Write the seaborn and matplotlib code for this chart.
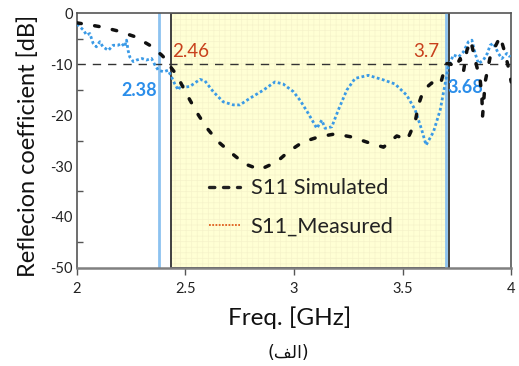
import matplotlib
matplotlib.use("Agg")
import matplotlib.pyplot as plt
import seaborn as sns
import pandas as pd
from matplotlib.lines import Line2D
from matplotlib.patches import Rectangle

# ---- data ----
sim_freq = [2.0, 2.045, 2.114, 2.19, 2.267, 2.336, 2.39, 2.413, 2.436, 2.467,
            2.48, 2.52, 2.56, 2.6, 2.65, 2.713, 2.774, 2.843, 2.92, 2.974,
            3.04, 3.112, 3.189, 3.266, 3.342, 3.412, 3.473, 3.522, 3.558, 3.573,
            3.596, 3.634, 3.673, 3.688, 3.70, 3.719, 3.742, 3.765, 3.78, 3.796,
            3.814, 3.834, 3.857, 3.865, 3.868, 3.88, 3.903, 3.926, 3.949, 3.972,
            3.988, 4.0]
sim_db = [-1.9, -2.2, -2.7, -3.5, -4.6, -6.3, -8.2, -9.2, -10.8, -12.5,
          -13.8, -17.0, -20.0, -22.6, -25.2, -27.5, -29.6, -30.7, -29.2, -27.2,
          -25.3, -24.3, -23.7, -24.3, -25.4, -26.3, -24.1, -24.8, -21.3, -18.0,
          -15.1, -13.7, -14.1, -11.8, -9.9, -9.9, -10.8, -8.9, -11.5, -7.3,
          -5.4, -9.2, -13.1, -16.4, -20.3, -13.5, -8.6, -6.6, -4.6, -7.9,
          -10.8, -13.5]

meas_freq = [2.0, 2.006, 2.03, 2.045, 2.06, 2.075, 2.09, 2.106, 2.12, 2.145,
             2.167, 2.19, 2.206, 2.22, 2.229, 2.236, 2.244, 2.26, 2.275, 2.3,
             2.32, 2.344, 2.36, 2.375, 2.4, 2.42, 2.436, 2.45, 2.467, 2.48,
             2.498, 2.52, 2.567, 2.59, 2.628, 2.674, 2.72, 2.751, 2.797, 2.859,
             2.912, 2.95, 2.997, 3.028, 3.066, 3.105, 3.128, 3.143, 3.174, 3.204,
             3.243, 3.281, 3.342, 3.412, 3.465, 3.519, 3.558, 3.588, 3.608, 3.642,
             3.673, 3.696, 3.71, 3.734, 3.757, 3.78, 3.803, 3.819, 3.834, 3.849,
             3.872, 3.89, 3.903, 3.918, 3.941, 3.957, 3.98, 3.995]
meas_db = [-2.2, -2.35, -3.3, -4.3, -4.0, -5.9, -6.6, -5.6, -6.6, -7.3,
           -6.3, -6.3, -5.9, -6.6, -5.3, -7.3, -8.6, -9.5, -9.2, -8.9,
           -9.2, -8.9, -10.2, -11.2, -11.5, -11.2, -12.5, -13.8, -15.1, -14.1,
           -14.5, -14.4, -13.0, -13.3, -15.4, -17.4, -18.0, -18.0, -16.7, -15.1,
           -13.5, -13.9, -15.4, -17.1, -19.7, -22.6, -21.0, -22.6, -22.3, -19.0,
           -15.1, -12.8, -12.2, -13.1, -13.9, -16.1, -19.0, -22.9, -25.9, -23.3,
           -19.0, -13.8, -10.5, -8.2, -8.6, -7.6, -5.6, -5.3, -7.9, -9.9,
           -9.2, -7.9, -6.3, -5.9, -7.9, -8.9, -7.9, -8.6]

series_labels = ["S11 Simulated", "S11_Measured"]
band_sim = [2.46, 3.7]      # simulated -10 dB band (labels)
band_meas = [2.38, 3.68]    # measured -10 dB band (labels)
band_box = [2.435, 3.715]   # shaded box edges as drawn
band_lines = [2.38, 3.70]   # blue markers as drawn
xticks = [2, 2.5, 3, 3.5, 4]
xtick_labels = ["2", "2.5", "3", "3.5", "4"]
yticks = [0, -10, -20, -30, -40, -50]
ytick_labels = ["0", "-10", "-20", "-30", "-40", "-50"]

# ---- plotting ----
sns.set_theme(style="white")
plt.rcParams['font.family'] = ['Lato', 'DejaVu Sans']
plt.rcParams['hatch.linewidth'] = 0.5

fig = plt.figure(figsize=(5.19, 3.66), dpi=100)
ax = fig.add_axes([0.148, 0.268, 0.837, 0.696])

# shaded band
ax.add_patch(Rectangle((band_box[0], -50), band_box[1] - band_box[0], 50,
                       facecolor='#FFFFD4', edgecolor='#F6F3CA', hatch='+++',
                       linewidth=0, zorder=0.5))
ax.add_patch(Rectangle((band_box[0], -50), band_box[1] - band_box[0], 50,
                       facecolor='none', edgecolor='#404040',
                       linewidth=1.4, zorder=0.6))

for xv in band_lines:
    ax.axvline(xv, color='#8CC2F0', lw=2.0, zorder=1)

ax.axhline(-10, color='#333333', lw=1.0, dashes=(6, 5), zorder=1.2)

df_sim = pd.DataFrame({"freq": sim_freq, "db": sim_db})
df_meas = pd.DataFrame({"freq": meas_freq, "db": meas_db})

sns.lineplot(data=df_meas, x="freq", y="db", ax=ax, color='#3A9AE6',
             linewidth=2.0, estimator=None, zorder=3)
sns.lineplot(data=df_sim, x="freq", y="db", ax=ax, color='#111111',
             linewidth=2.5, estimator=None, zorder=4)
lines = ax.get_lines()
meas_line = lines[-2]
sim_line = lines[-1]
meas_line.set_dashes((1.0, 0.9))
sim_line.set_dashes((1.3, 3.9))
sim_line.set_dash_capstyle('round')

ax.set_xlim(2, 4)
ax.set_ylim(-50, 0)
ax.set_xticks(xticks)
ax.set_xticklabels(xtick_labels)
ax.set_yticks(yticks)
ax.set_yticklabels(ytick_labels)
ax.set_yticks([-5, -15, -25, -35, -45], minor=True)
ax.tick_params(axis='y', which='major', length=0, labelsize=10.5, pad=3,
               colors='#222222')
ax.tick_params(axis='y', which='minor', direction='in', length=4, width=1,
               color='#555555', left=True)
ax.tick_params(axis='x', which='major', direction='out', length=5, width=1,
               color='#555555', labelsize=10.5, pad=5, bottom=True,
               labelcolor='#222222')
ax.set_xlabel("")
ax.set_ylabel("")

for side in ['left', 'top', 'right']:
    ax.spines[side].set_color('#555555')
    ax.spines[side].set_linewidth(1.2)
ax.spines['bottom'].set_color('#808080')
ax.spines['bottom'].set_linewidth(1.8)

# annotations
red = '#C8401C'
blue = '#2B8EEA'
ax.text(band_box[0] + 0.003, -7.5, f"{band_sim[0]:.2f}", color=red,
        fontsize=13.5, ha='left', va='center')
ax.text(band_sim[1] - 0.03, -7.5, f"{band_sim[1]:.1f}", color=red,
        fontsize=13.5, ha='right', va='center')
ax.text(band_meas[0] - 0.012, -15.1, f"{band_meas[0]:.2f}", color=blue,
        fontsize=13, ha='right', va='center', fontweight='bold')
ax.text(band_lines[1] + 0.008, -14.6, f"{band_meas[1]:.2f}", color=blue,
        fontsize=13, ha='left', va='center', fontweight='bold')

# legend
handles = [Line2D([0], [0], color='#222222', lw=2.4, dashes=(1.6, 2.6),
                  dash_capstyle='round'),
           Line2D([0], [0], color='#E0601E', lw=1.3, dashes=(1.0, 0.8))]
ax.legend(handles, series_labels, loc='upper left',
          bbox_to_anchor=(0.305, 0.352), frameon=False, fontsize=15.7,
          handlelength=1.4, handletextpad=0.5, labelspacing=0.85,
          borderpad=0, borderaxespad=0, labelcolor='#222222')

fig.text(0.054, 0.60, "Reflecion coefficient [dB]", rotation=90,
         fontsize=17, ha='center', va='center', color='#111111')
fig.text(0.558, 0.131, "Freq. [GHz]", fontsize=17.5, ha='center',
         va='center', color='#111111')
fig.text(0.555, 0.036, "(\ufed2\ufedf\ufe8d)", fontsize=12.5, ha='center',
         va='center', color='#111111', family=['DejaVu Sans'])

fig.savefig("out.png", dpi=100)
